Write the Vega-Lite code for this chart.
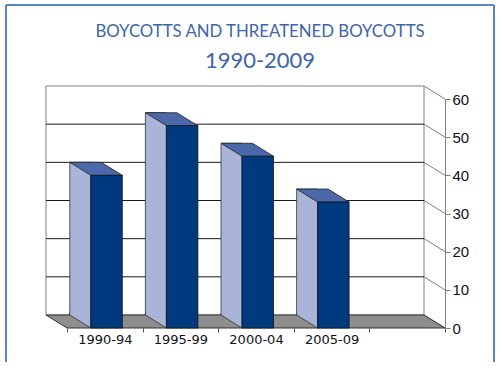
{
  "$schema": "https://vega.github.io/schema/vega-lite/v6.json",
  "width": 488,
  "height": 357,
  "autosize": {"type": "none"},
  "padding": {"left": 6, "top": 5, "right": 6, "bottom": 14},
  "background": "white",
  "config": {"view": {"stroke": null}},
  "title": {
    "text": "BOYCOTTS AND THREATENED BOYCOTTS",
    "subtitle": "1990-2009",
    "font": "Lato",
    "fontSize": 16.8,
    "fontWeight": "normal",
    "color": "#3D65AC",
    "subtitleFont": "Lato",
    "subtitleFontSize": 22,
    "subtitleColor": "#3D65AC",
    "subtitlePadding": 10,
    "anchor": "middle",
    "frame": "group",
    "offset": -68,
    "dx": 10
  },
  "resolve": {"axis": {"x": "independent", "y": "independent"}},
  "data": {
    "values": [
      {"period": "1990-94", "count": 40},
      {"period": "1995-99", "count": 53},
      {"period": "2000-04", "count": 45},
      {"period": "2005-09", "count": 33}
    ]
  },
  "layer": [
    {
      "data": {"values": [{}]},
      "mark": {"type": "rule", "color": "#5B86C4", "strokeWidth": 2},
      "encoding": {"x": {"value": 0}, "y": {"value": 0}, "y2": {"value": "height"}}
    },
    {
      "data": {"values": [{}]},
      "mark": {"type": "rule", "color": "#5B86C4", "strokeWidth": 2},
      "encoding": {"x": {"value": 0}, "x2": {"value": "width"}, "y": {"value": 0}}
    },
    {
      "data": {"values": [{}]},
      "mark": {"type": "rule", "color": "#5B86C4", "strokeWidth": 2},
      "encoding": {"x": {"value": "width"}, "y": {"value": 0}, "y2": {"value": "height"}}
    },
    {
      "data": {"values": [{}]},
      "mark": {"type": "rect", "fill": "white", "stroke": "#7F7F7F", "strokeWidth": 1, "xOffset": -21, "x2Offset": -21, "yOffset": -13, "y2Offset": -13},
      "encoding": {
        "x": {"datum": "1990-94", "type": "nominal", "bandPosition": 0, "axis": null},
        "x2": {"datum": " ", "bandPosition": 1},
        "y": {"datum": 60, "type": "quantitative", "axis": null},
        "y2": {"datum": 0}
      }
    },
    {
      "data": {"values": [{"v": 10}, {"v": 20}, {"v": 30}, {"v": 40}, {"v": 50}]},
      "mark": {"type": "rule", "color": "#1A1A1A", "strokeWidth": 1, "xOffset": -21, "x2Offset": -21, "yOffset": -13},
      "encoding": {
        "x": {"datum": "1990-94", "type": "nominal", "bandPosition": 0, "axis": null},
        "x2": {"datum": " ", "bandPosition": 1},
        "y": {"field": "v", "type": "quantitative", "axis": null}
      }
    },
    {
      "data": {"values": [{"v": 0}, {"v": 10}, {"v": 20}, {"v": 30}, {"v": 40}, {"v": 50}, {"v": 60}]},
      "mark": {"type": "rule", "color": "#7F7F7F", "strokeWidth": 1, "xOffset": -21, "yOffset": -13},
      "encoding": {
        "x": {"datum": " ", "type": "nominal", "bandPosition": 1, "axis": null},
        "x2": {"datum": " ", "bandPosition": 1},
        "y": {"field": "v", "type": "quantitative", "axis": null},
        "y2": {"field": "v"}
      }
    },
    {
      "data": {"values": [{}]},
      "mark": {"type": "point", "shape": "M0,0 L378,0 L357,-13 L-21,-13 Z", "size": 4, "filled": true, "fill": "#8E8E8E", "stroke": "#333333", "strokeWidth": 1, "opacity": 1},
      "encoding": {
        "x": {"datum": "1990-94", "type": "nominal", "bandPosition": 0, "axis": null},
        "y": {"datum": 0, "type": "quantitative", "axis": null}
      }
    },
    {
      "mark": {"type": "bar", "width": 21, "xOffset": -24.5, "yOffset": -13, "y2Offset": -13, "fill": "#A9B4D8", "stroke": "#333333", "strokeWidth": 0.8},
      "encoding": {
        "x": {"field": "period", "type": "nominal", "axis": null},
        "y": {"field": "count", "type": "quantitative", "axis": null},
        "y2": {"datum": 0}
      }
    },
    {
      "mark": {"type": "point", "shape": "M-35,-15 L-35,-13 L-14,0 L-14,-15", "size": 4, "filled": true, "fill": "#A9B4D8", "stroke": "#333333", "strokeWidth": 0.8, "opacity": 1},
      "encoding": {
        "x": {"field": "period", "type": "nominal", "axis": null},
        "y": {"datum": 0, "type": "quantitative", "axis": null}
      }
    },
    {
      "mark": {"type": "point", "shape": "M-35,-13 L-3.5,-13 L17.5,0 L-14,0 Z", "size": 4, "filled": true, "fill": "#4B69AA", "stroke": "#222222", "strokeWidth": 0.8, "opacity": 1},
      "encoding": {
        "x": {"field": "period", "type": "nominal", "axis": null},
        "y": {"field": "count", "type": "quantitative", "axis": null}
      }
    },
    {
      "mark": {"type": "bar", "width": 31.5, "xOffset": 1.75, "fill": "#003A7E", "stroke": "#111111", "strokeWidth": 0.8},
      "encoding": {
        "x": {
          "field": "period",
          "type": "nominal",
          "scale": {"domain": ["1990-94", "1995-99", "2000-04", "2005-09", " "], "range": [61, 439], "paddingInner": 0, "paddingOuter": 0},
          "axis": {"title": null, "orient": "bottom", "offset": -34, "domain": false, "ticks": true, "tickBand": "extent", "tickSize": 4, "tickColor": "#555555", "labelFont": "DejaVu Sans", "labelFontSize": 13, "labelColor": "#111111", "labelPadding": 1, "labelAngle": 0}
        },
        "y": {
          "field": "count",
          "type": "quantitative",
          "scale": {"domain": [0, 60], "range": [323, 94], "nice": false},
          "axis": {"title": null, "orient": "right", "offset": -49, "values": [0, 10, 20, 30, 40, 50, 60], "domainColor": "#7F7F7F", "tickColor": "#7F7F7F", "tickSize": 5, "labelFont": "Liberation Sans", "labelFontSize": 15, "labelColor": "#111111", "labelPadding": 2, "grid": false}
        }
      }
    }
  ]
}
